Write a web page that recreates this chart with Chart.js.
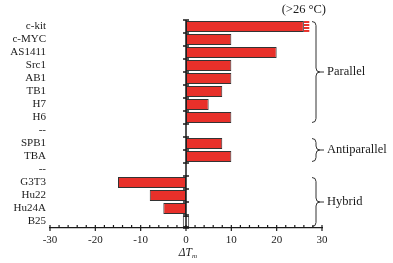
<!DOCTYPE html>
<html><head><meta charset="utf-8">
<script src="https://cdn.jsdelivr.net/npm/chart.js@4"></script>
<style>html,body{margin:0;padding:0;background:#fff}#wrap{width:393px;height:263px;position:relative}</style>
</head><body><div id="wrap"><canvas id="c" width="393" height="263"></canvas></div>
<script>
const categories = ['c-kit','c-MYC','AS1411','Src1','AB1','TB1','H7','H6','--','SPB1','TBA','--','G3T3','Hu22','Hu24A','B25'];
const deltaTm = [26,10,20,10,10,8,5,10,null,8,10,null,-15,-8,-5,[-0.7,0.7]];
const overflow = [1.2,null,null,null,null,null,null,null,null,null,null,null,null,null,null,null];
const xTickValues = [-30,-20,-10,0,10,20,30];
const groups = [
  {label:'Parallel', from:0, to:7},
  {label:'Antiparallel', from:9, to:10},
  {label:'Hybrid', from:12, to:15}
];
const overflowNote = '(>26 \u00B0C)';
const overflowNoteAt = 26;
const axisTitle = ['\u0394T','m'];

const SERIF = '"Liberation Serif", "DejaVu Serif", serif';
const RED = '#e8302a';
const INK = '#1a1a1a';

function hatchPattern(){
  const p = document.createElement('canvas');
  p.width = 4; p.height = 3;
  const c = p.getContext('2d');
  c.fillStyle = RED; c.fillRect(0,0,4,3);
  c.fillStyle = '#ffffff'; c.fillRect(0,2,4,1);
  return document.getElementById('c').getContext('2d').createPattern(p,'repeat');
}

const barColors = deltaTm.map(v => Array.isArray(v) ? '#ffffff' : RED);

function drawBrace(ctx, x, y1, y2){
  const ym = (y1+y2)/2, h = 4;
  ctx.beginPath();
  ctx.moveTo(x-h, y1);
  ctx.quadraticCurveTo(x, y1, x, y1+h);
  ctx.lineTo(x, ym-h);
  ctx.quadraticCurveTo(x, ym, x+h, ym);
  ctx.quadraticCurveTo(x, ym, x, ym+h);
  ctx.lineTo(x, y2-h);
  ctx.quadraticCurveTo(x, y2, x-h, y2);
  ctx.stroke();
  ctx.beginPath();
  ctx.moveTo(x+h, ym); ctx.lineTo(x+8, ym);
  ctx.stroke();
}

const decor = {
  id:'decor',
  afterDatasetsDraw(chart){
    const ctx = chart.ctx, xs = chart.scales.x, ys = chart.scales.y, ca = chart.chartArea;
    const x0 = xs.getPixelForValue(0);
    const bnd = i => ys.getPixelForValue(i - 0.5);
    ctx.save();
    ctx.strokeStyle = INK; ctx.lineWidth = 1.5;
    ctx.beginPath(); ctx.moveTo(x0, ca.top); ctx.lineTo(x0, ca.bottom); ctx.stroke();
    for (let i=0;i<=categories.length;i++){
      const y = bnd(i);
      ctx.beginPath(); ctx.moveTo(x0-3, y); ctx.lineTo(x0+3, y); ctx.stroke();
    }
    ctx.lineWidth = 1.2;
    for (let v=xs.min; v<=xs.max; v+=2){
      const x = xs.getPixelForValue(v);
      const major = xTickValues.includes(v);
      ctx.beginPath();
      ctx.moveTo(x, ca.bottom - 3);
      ctx.lineTo(x, ca.bottom + (major ? 3 : 0));
      ctx.stroke();
    }
    ctx.strokeStyle = '#333'; ctx.lineWidth = 1;
    ctx.fillStyle = INK;
    ctx.font = '12.5px ' + SERIF;
    ctx.textBaseline = 'middle'; ctx.textAlign = 'left';
    const bx = ca.right - 6;
    groups.forEach(g => {
      const y1 = bnd(g.from) + 1.5, y2 = bnd(g.to + 1) - 1.5;
      drawBrace(ctx, bx, y1, y2);
      ctx.fillText(g.label, ca.right + 5, (y1+y2)/2);
    });
    ctx.textAlign = 'center';
    ctx.fillText(overflowNote, xs.getPixelForValue(overflowNoteAt), ca.top - 10);
    ctx.font = 'italic 11.5px ' + SERIF;
    ctx.textAlign = 'right';
    const tx = x0 + 6, ty = ca.bottom + 25;
    ctx.fillText(axisTitle[0], tx, ty);
    ctx.font = 'italic 7px ' + SERIF;
    ctx.textAlign = 'left';
    ctx.fillText(axisTitle[1], tx, ty + 3);
    ctx.restore();
  }
};

new Chart(document.getElementById('c'), {
  type:'bar',
  data:{
    labels: categories,
    datasets:[
      {data: deltaTm, backgroundColor: barColors, borderColor:'#333', borderWidth:1, borderSkipped:false,
       categoryPercentage:1, barPercentage:0.84},
      {data: overflow, backgroundColor: hatchPattern(), borderWidth:0,
       categoryPercentage:1, barPercentage:0.84}
    ]
  },
  options:{
    indexAxis:'y',
    responsive:false, animation:false, devicePixelRatio:1,
    layout:{padding:{left:0, right:71, top:20, bottom:0}},
    plugins:{legend:{display:false}, tooltip:{enabled:false}},
    scales:{
      x:{
        type:'linear', stacked:true, min:-30, max:30,
        afterFit: s => { s.height = 35; },
        afterBuildTicks: s => { s.ticks = xTickValues.map(v => ({value:v})); },
        grid:{display:false, drawTicks:false},
        border:{display:true, color:INK, width:1.2},
        ticks:{color:INK, font:{family:SERIF, size:11}, padding:6, maxRotation:0,
          callback: v => v < 0 ? '-' + Math.abs(v) : String(v)}
      },
      y:{
        stacked:true,
        afterFit: s => { s.width = 50; },
        grid:{display:false, drawTicks:false},
        border:{display:false},
        ticks:{color:INK, font:{family:SERIF, size:11}, padding:4, autoSkip:false}
      }
    }
  },
  plugins:[decor]
});
</script>
</body></html>
